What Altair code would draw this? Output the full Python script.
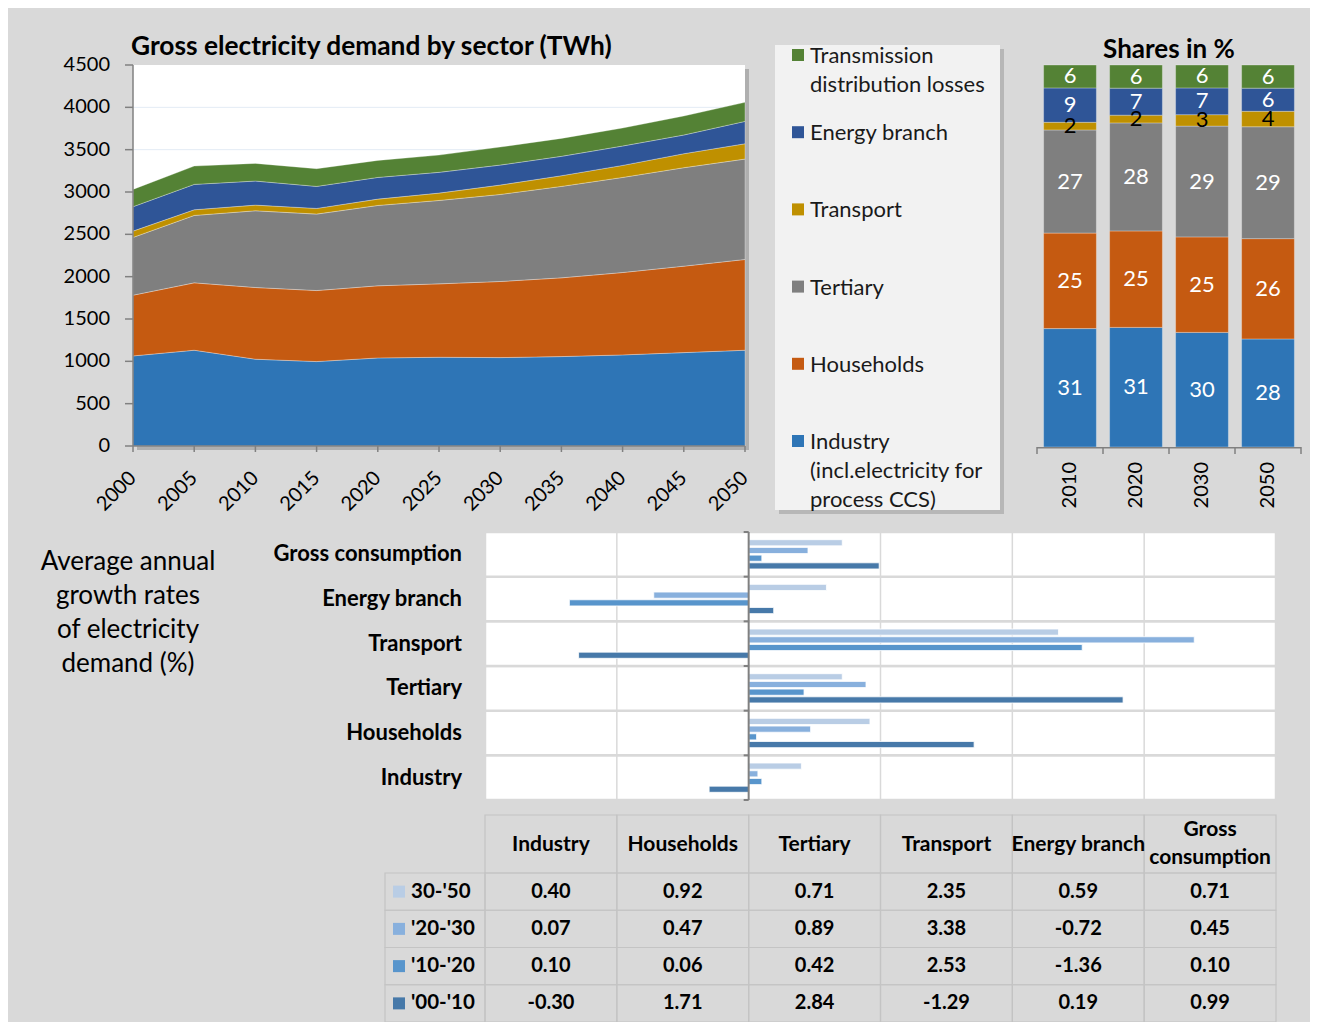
import altair as alt
import pandas as pd

W, H = 1302, 1014
FONT = "Lato"
BG = "#d9d9d9"
AXC = "#808080"

# ---------------- data ----------------
years = [2000, 2005, 2010, 2015, 2020, 2025, 2030, 2035, 2040, 2045, 2050]
sectors = ["Industry", "Households", "Tertiary", "Transport", "Energy branch",
           "Transmission distribution losses"]
sector_colors = ["#2e75b6", "#c55a11", "#7f7f7f", "#bf9000", "#2f5597", "#548235"]

industry = [1064, 1131, 1025, 997, 1040, 1048, 1044, 1056, 1076, 1103, 1131]
households = [717, 796, 847, 839, 852, 867, 899, 930, 973, 1021, 1072]
tertiary = [682, 796, 906, 903, 949, 985, 1028, 1080, 1123, 1163, 1186]
transport = [75, 67, 67, 67, 75, 87, 111, 126, 142, 165, 181]
energy_branch = [288, 300, 284, 260, 256, 245, 236, 229, 229, 221, 264]
losses = [205, 216, 209, 209, 201, 204, 213, 212, 213, 225, 225]
y_ticks = [0, 500, 1000, 1500, 2000, 2500, 3000, 3500, 4000, 4500]

share_years = ["2010", "2020", "2030", "2050"]
share_industry = [31, 31, 30, 28]
share_households = [25, 25, 25, 26]
share_tertiary = [27, 28, 29, 29]
share_transport = [2, 2, 3, 4]
share_energy = [9, 7, 7, 6]
share_losses = [6, 6, 6, 6]

legend_labels = ["Transmission\ndistribution losses", "Energy branch", "Transport",
                 "Tertiary", "Households", "Industry\n(incl.electricity for\nprocess CCS)"]

periods = ["30-'50", "'20-'30", "'10-'20", "'00-'10"]
period_colors = ["#b9cde5", "#88b0dd", "#5895cc", "#4779a9"]
table_cols = ["Industry", "Households", "Tertiary", "Transport", "Energy branch",
              "Gross consumption"]
table_headers = ["Industry", "Households", "Tertiary", "Transport", "Energy branch",
                 "Gross\nconsumption"]
g_industry = [0.40, 0.07, 0.10, -0.30]
g_households = [0.92, 0.47, 0.06, 1.71]
g_tertiary = [0.71, 0.89, 0.42, 2.84]
g_transport = [2.35, 3.38, 2.53, -1.29]
g_energy = [0.59, -0.72, -1.36, 0.19]
g_gross = [0.71, 0.45, 0.10, 0.99]
bar_x_grid = [-1, 1, 2, 3]

# ---------------- tables ----------------
series = [industry, households, tertiary, transport, energy_branch, losses]
area_df = pd.DataFrame([
    {"year": y, "sector": s, "value": v[i], "order": k}
    for k, (s, v) in enumerate(zip(sectors, series)) for i, y in enumerate(years)
])
shares = [share_industry, share_households, share_tertiary, share_transport,
          share_energy, share_losses]
shares_df = pd.DataFrame([
    {"year": y, "sector": s, "value": v[i], "order": k}
    for k, (s, v) in enumerate(zip(sectors, shares)) for i, y in enumerate(share_years)
])
legend_df = pd.DataFrame({"sector": sectors[::-1], "label": legend_labels})
gvals = [g_industry, g_households, g_tertiary, g_transport, g_energy, g_gross]
growth_df = pd.DataFrame([
    {"cat": c, "period": p, "value": v[j], "label": f"{v[j]:.2f}"}
    for c, v in zip(table_cols, gvals) for j, p in enumerate(periods)
])
rows_df = pd.DataFrame({"cat": table_cols, "lo": [-2] * 6, "hi": [4] * 6})
grid_df = pd.DataFrame({"g": bar_x_grid})
header_df = pd.DataFrame({"col": table_cols, "label": table_headers,
                          "lines": [h.count("\n") + 1 for h in table_headers]})
period_df = pd.DataFrame({"period": periods})
years_df = pd.DataFrame({"year": years})
ytick_df = pd.DataFrame({"t": y_ticks})
syear_df = pd.DataFrame({"year": share_years})
cat_df = pd.DataFrame({"cat": table_cols})
one = pd.DataFrame({"a": [0]})

# ---------------- area chart ----------------
xa = alt.Scale(domain=[2000, 2050], range=[125, 737], nice=False, zero=False)
ya = alt.Scale(domain=[0, 4500], range=[438, 57], nice=False, zero=False)
panel_df = pd.DataFrame({"x0": [2000], "x1": [2050], "y0": [0], "y1": [4500]})

area_shadow = alt.Chart(panel_df).mark_rect(
    color="#9c9c9c", opacity=0.7, xOffset=4, x2Offset=4, yOffset=4, y2Offset=4
).encode(x=alt.X("x0:Q", scale=xa, axis=None), x2="x1",
         y=alt.Y("y0:Q", scale=ya, axis=None), y2="y1")
area_panel = alt.Chart(panel_df).mark_rect(color="white").encode(
    x=alt.X("x0:Q", scale=xa, axis=None), x2="x1",
    y=alt.Y("y0:Q", scale=ya, axis=None), y2="y1")
area_grid = alt.Chart(pd.DataFrame({"t": y_ticks[1:-1]})).mark_rule(
    color="#e3ebf5", strokeWidth=1
).encode(y=alt.Y("t:Q", scale=ya, axis=None),
         x=alt.XDatum(2000, scale=xa, axis=None), x2=alt.datum(2050))
areas = alt.Chart(area_df).mark_area(
    stroke="white", strokeWidth=0.6, strokeOpacity=0.5
).encode(
    x=alt.X("year:Q", scale=xa, axis=None),
    y=alt.Y("value:Q", stack="zero", scale=ya, axis=None),
    color=alt.Color("sector:N", scale=alt.Scale(domain=sectors, range=sector_colors),
                    legend=None),
    order=alt.Order("order:Q"),
)
ya_dom = alt.Chart(one).mark_rule(color=AXC, strokeWidth=1.5).encode(
    x=alt.XDatum(2000, scale=xa, axis=None),
    y=alt.YDatum(0, scale=ya, axis=None), y2=alt.datum(4500))
ya_tck = alt.Chart(ytick_df).mark_rule(color=AXC, strokeWidth=1.5, xOffset=-8).encode(
    x=alt.XDatum(2000, scale=xa, axis=None), x2=alt.datum(2000),
    y=alt.Y("t:Q", scale=ya, axis=None))
ya_lab = alt.Chart(ytick_df).mark_text(
    font=FONT, fontSize=20, align="right", baseline="middle", dx=-23, color="black"
).encode(x=alt.XDatum(2000, scale=xa, axis=None), y=alt.Y("t:Q", scale=ya, axis=None),
         text=alt.Text("t:Q", format="d"))
xa_dom = alt.Chart(one).mark_rule(color=AXC, strokeWidth=1.5).encode(
    x=alt.XDatum(2000, scale=xa, axis=None), x2=alt.datum(2050),
    y=alt.YDatum(0, scale=ya, axis=None))
xa_tck = alt.Chart(years_df).mark_rule(color=AXC, strokeWidth=1.5, y2Offset=6).encode(
    x=alt.X("year:Q", scale=xa, axis=None),
    y=alt.YDatum(0, scale=ya, axis=None), y2=alt.datum(0))
xa_lab = alt.Chart(years_df).mark_text(
    font=FONT, fontSize=20, align="right", baseline="middle", angle=315, yOffset=29,
    color="black"
).encode(x=alt.X("year:Q", scale=xa, axis=None), y=alt.YDatum(0, scale=ya, axis=None),
         text=alt.Text("year:Q", format="d"))
area_title = alt.Chart(one).mark_text(
    text="Gross electricity demand by sector (TWh)", font=FONT, fontSize=26.3,
    fontWeight="bold", align="left", baseline="alphabetic", color="black"
).encode(x=alt.value(123), y=alt.value(47))
area_part = alt.layer(area_shadow, area_panel, area_grid, areas, ya_dom, ya_tck, ya_lab,
                      xa_dom, xa_tck, xa_lab, area_title)

# ---------------- legend ----------------
yl = alt.Scale(type="point", domain=sectors[::-1], range=[47, 433], padding=0)
leg_shadow = alt.Chart(one).mark_rect(color="#a0a0a0", opacity=0.6).encode(
    x=alt.value(771), x2=alt.value(996), y=alt.value(41), y2=alt.value(506))
leg_box = alt.Chart(one).mark_rect(color="#f2f2f2").encode(
    x=alt.value(767), x2=alt.value(992), y=alt.value(37), y2=alt.value(502))
leg_sq = alt.Chart(legend_df).mark_square(size=144, opacity=1).encode(
    x=alt.value(790), y=alt.Y("sector:N", scale=yl, axis=None),
    color=alt.Color("sector:N", scale=alt.Scale(domain=sectors, range=sector_colors),
                    legend=None))
leg_txt = alt.Chart(legend_df).mark_text(
    font=FONT, fontSize=22, align="left", baseline="alphabetic", dy=8,
    lineBreak="\n", lineHeight=29, color="#1a1a1a"
).encode(x=alt.value(802), y=alt.Y("sector:N", scale=yl, axis=None), text="label:N")
legend_part = alt.layer(leg_shadow, leg_box, leg_sq, leg_txt)

# ---------------- shares ----------------
xs = alt.Scale(domain=share_years, range=[1029, 1293], paddingInner=0, paddingOuter=0)
ys = alt.Scale(domain=[0, 1], range=[439, 57], nice=False, zero=False)
share_bars = alt.Chart(shares_df).mark_bar(
    width={"band": 0.8}, stroke="white", strokeWidth=0.6, strokeOpacity=0.5
).encode(
    x=alt.X("year:N", scale=xs, sort=share_years, axis=None),
    y=alt.Y("value:Q", stack="normalize", scale=ys, axis=None),
    color=alt.Color("sector:N", scale=alt.Scale(domain=sectors, range=sector_colors),
                    legend=None),
    order=alt.Order("order:Q"),
)
share_labels = alt.Chart(shares_df).transform_stack(
    stack="value", groupby=["year"], as_=["s0", "s1"], offset="normalize",
    sort=[alt.SortField("order", "ascending")]
).transform_calculate(mid="(datum.s0 + datum.s1) / 2").mark_text(
    font=FONT, fontSize=22, baseline="middle", align="center"
).encode(
    x=alt.X("year:N", scale=xs, sort=share_years, axis=None),
    y=alt.Y("mid:Q", scale=ys, axis=None),
    text="value:Q",
    color=alt.condition(alt.datum.sector == "Transport", alt.value("black"),
                        alt.value("white")),
)
sx_dom = alt.Chart(syear_df).mark_rect(color=AXC, y2Offset=1.5).encode(
    x=alt.X("year:N", scale=xs, sort=share_years, axis=None),
    y=alt.YDatum(0, scale=ys, axis=None), y2=alt.datum(0))
sx_tck = alt.Chart(syear_df).mark_rule(color=AXC, strokeWidth=1.5, y2Offset=7).encode(
    x=alt.X("year:N", scale=xs, sort=share_years, bandPosition=0, axis=None),
    y=alt.YDatum(0, scale=ys, axis=None), y2=alt.datum(0))
sx_tck_end = alt.Chart(syear_df.tail(1)).mark_rule(color=AXC, strokeWidth=1.5,
                                                   y2Offset=7).encode(
    x=alt.X("year:N", scale=xs, sort=share_years, bandPosition=1, axis=None),
    y=alt.YDatum(0, scale=ys, axis=None), y2=alt.datum(0))
sx_lab = alt.Chart(syear_df).mark_text(
    font=FONT, fontSize=20, align="right", baseline="middle", angle=270, yOffset=15,
    color="black"
).encode(x=alt.X("year:N", scale=xs, sort=share_years, axis=None),
         y=alt.YDatum(0, scale=ys, axis=None), text="year:N")
share_title = alt.Chart(one).mark_text(
    text="Shares in %", font=FONT, fontSize=26, fontWeight="bold", align="center",
    baseline="alphabetic", color="black"
).encode(x=alt.value(1161), y=alt.value(50))
shares_part = alt.layer(share_bars, share_labels, sx_dom, sx_tck, sx_tck_end, sx_lab,
                        share_title)

# ---------------- growth bars ----------------
bar_order = table_cols[::-1]
yg = alt.Scale(domain=bar_order, range=[524, 792], paddingInner=0, paddingOuter=0)
xg = alt.Scale(domain=[-2, 4], range=[477, 1268], nice=False, zero=False)
yo = alt.Scale(domain=periods, paddingInner=0.2, paddingOuter=1.0)

rows = alt.Chart(rows_df).mark_rect(fill="white", stroke=BG, strokeWidth=2.5).encode(
    x=alt.X("lo:Q", scale=xg, axis=None), x2="hi",
    y=alt.Y("cat:N", scale=yg, sort=bar_order, axis=None))
vgrid = alt.Chart(grid_df).mark_rule(color=BG, strokeWidth=1.5).encode(
    x=alt.X("g:Q", scale=xg, axis=None), y=alt.value(524), y2=alt.value(792))
gbars = alt.Chart(growth_df).mark_bar(stroke="white", strokeWidth=0.8).encode(
    x=alt.X("value:Q", scale=xg, axis=None),
    y=alt.Y("cat:N", scale=yg, sort=bar_order, axis=None),
    yOffset=alt.YOffset("period:N", scale=yo, sort=periods),
    color=alt.Color("period:N", scale=alt.Scale(domain=periods, range=period_colors),
                    legend=None),
)
gy_dom = alt.Chart(one).mark_rule(color=AXC, strokeWidth=2).encode(
    x=alt.XDatum(0, scale=xg, axis=None), y=alt.value(524), y2=alt.value(792))
gy_tck = alt.Chart(cat_df).mark_rule(color=AXC, strokeWidth=2, xOffset=-5).encode(
    x=alt.XDatum(0, scale=xg, axis=None), x2=alt.datum(0),
    y=alt.Y("cat:N", scale=yg, sort=bar_order, bandPosition=0, axis=None))
gy_tck_end = alt.Chart(cat_df.head(1)).mark_rule(color=AXC, strokeWidth=2,
                                                 xOffset=-5).encode(
    x=alt.XDatum(0, scale=xg, axis=None), x2=alt.datum(0),
    y=alt.Y("cat:N", scale=yg, sort=bar_order, bandPosition=1, axis=None))
gy_lab = alt.Chart(cat_df).mark_text(
    font=FONT, fontSize=22, fontWeight="bold", align="right", baseline="middle",
    dx=-23, color="black"
).encode(x=alt.XDatum(-2, scale=xg, axis=None),
         y=alt.Y("cat:N", scale=yg, sort=bar_order, axis=None), text="cat:N")
growth_title = alt.Chart(pd.DataFrame(
    {"t": ["Average annual\ngrowth rates\nof electricity\ndemand (%)"]})).mark_text(
    font=FONT, fontSize=26, lineBreak="\n", lineHeight=34, align="center",
    baseline="middle", color="black"
).encode(x=alt.value(120), y=alt.value(554), text="t:N")
growth_part = alt.layer(rows, vgrid, gbars, gy_dom, gy_tck, gy_tck_end, gy_lab,
                        growth_title)

# ---------------- data table ----------------
xt = alt.Scale(domain=table_cols, range=[477, 1268], paddingInner=0, paddingOuter=0)
yt = alt.Scale(domain=periods, range=[865, 1014], paddingInner=0, paddingOuter=0)
LINE = "#c4c4c4"
cells = alt.Chart(growth_df).mark_rect(fillOpacity=0, stroke=LINE, strokeWidth=1.2).encode(
    x=alt.X("cat:N", scale=xt, sort=table_cols, axis=None),
    y=alt.Y("period:N", scale=yt, sort=periods, axis=None))
cell_txt = alt.Chart(growth_df).mark_text(
    font=FONT, fontSize=20, fontWeight="bold", color="black", baseline="middle"
).encode(
    x=alt.X("cat:N", scale=xt, sort=table_cols, axis=None),
    y=alt.Y("period:N", scale=yt, sort=periods, axis=None),
    text="label:N")
head_cells = alt.Chart(header_df).mark_rect(fillOpacity=0, stroke=LINE, strokeWidth=1.2).encode(
    x=alt.X("col:N", scale=xt, sort=table_cols, axis=None),
    y=alt.value(807), y2=alt.value(865))
head_txt1 = alt.Chart(header_df).transform_filter("datum.lines == 1").mark_text(
    font=FONT, fontSize=21, fontWeight="bold", color="black", baseline="middle"
).encode(x=alt.X("col:N", scale=xt, sort=table_cols, axis=None),
         y=alt.value(837), text="label:N")
head_txt2 = alt.Chart(header_df).transform_filter("datum.lines == 2").mark_text(
    font=FONT, fontSize=21, fontWeight="bold", color="black", baseline="middle",
    lineBreak="\n", lineHeight=28
).encode(x=alt.X("col:N", scale=xt, sort=table_cols, axis=None),
         y=alt.value(822), text="label:N")
row_cells = alt.Chart(period_df).mark_rect(fillOpacity=0, stroke=LINE, strokeWidth=1.2).encode(
    x=alt.value(377), x2=alt.value(477),
    y=alt.Y("period:N", scale=yt, sort=periods, axis=None))
row_sq = alt.Chart(period_df).mark_square(size=144, opacity=1).encode(
    x=alt.value(391), y=alt.Y("period:N", scale=yt, sort=periods, axis=None),
    color=alt.Color("period:N", scale=alt.Scale(domain=periods, range=period_colors),
                    legend=None))
row_txt = alt.Chart(period_df).mark_text(
    font=FONT, fontSize=20.5, fontWeight="bold", color="black", align="left",
    baseline="middle"
).encode(x=alt.value(403), y=alt.Y("period:N", scale=yt, sort=periods, axis=None),
         text="period:N")
table_part = alt.layer(cells, cell_txt, head_cells, head_txt1, head_txt2, row_cells,
                       row_sq, row_txt)

chart = alt.layer(
    area_part, legend_part, shares_part, growth_part, table_part
).resolve_scale(
    x="independent", y="independent", color="independent"
).properties(
    width=W, height=H, background=BG, padding=0,
    autosize=alt.AutoSizeParams(type="none"),
).configure_view(stroke=None)

chart.save("out.html", embed_options={"renderer": "svg", "actions": False})
